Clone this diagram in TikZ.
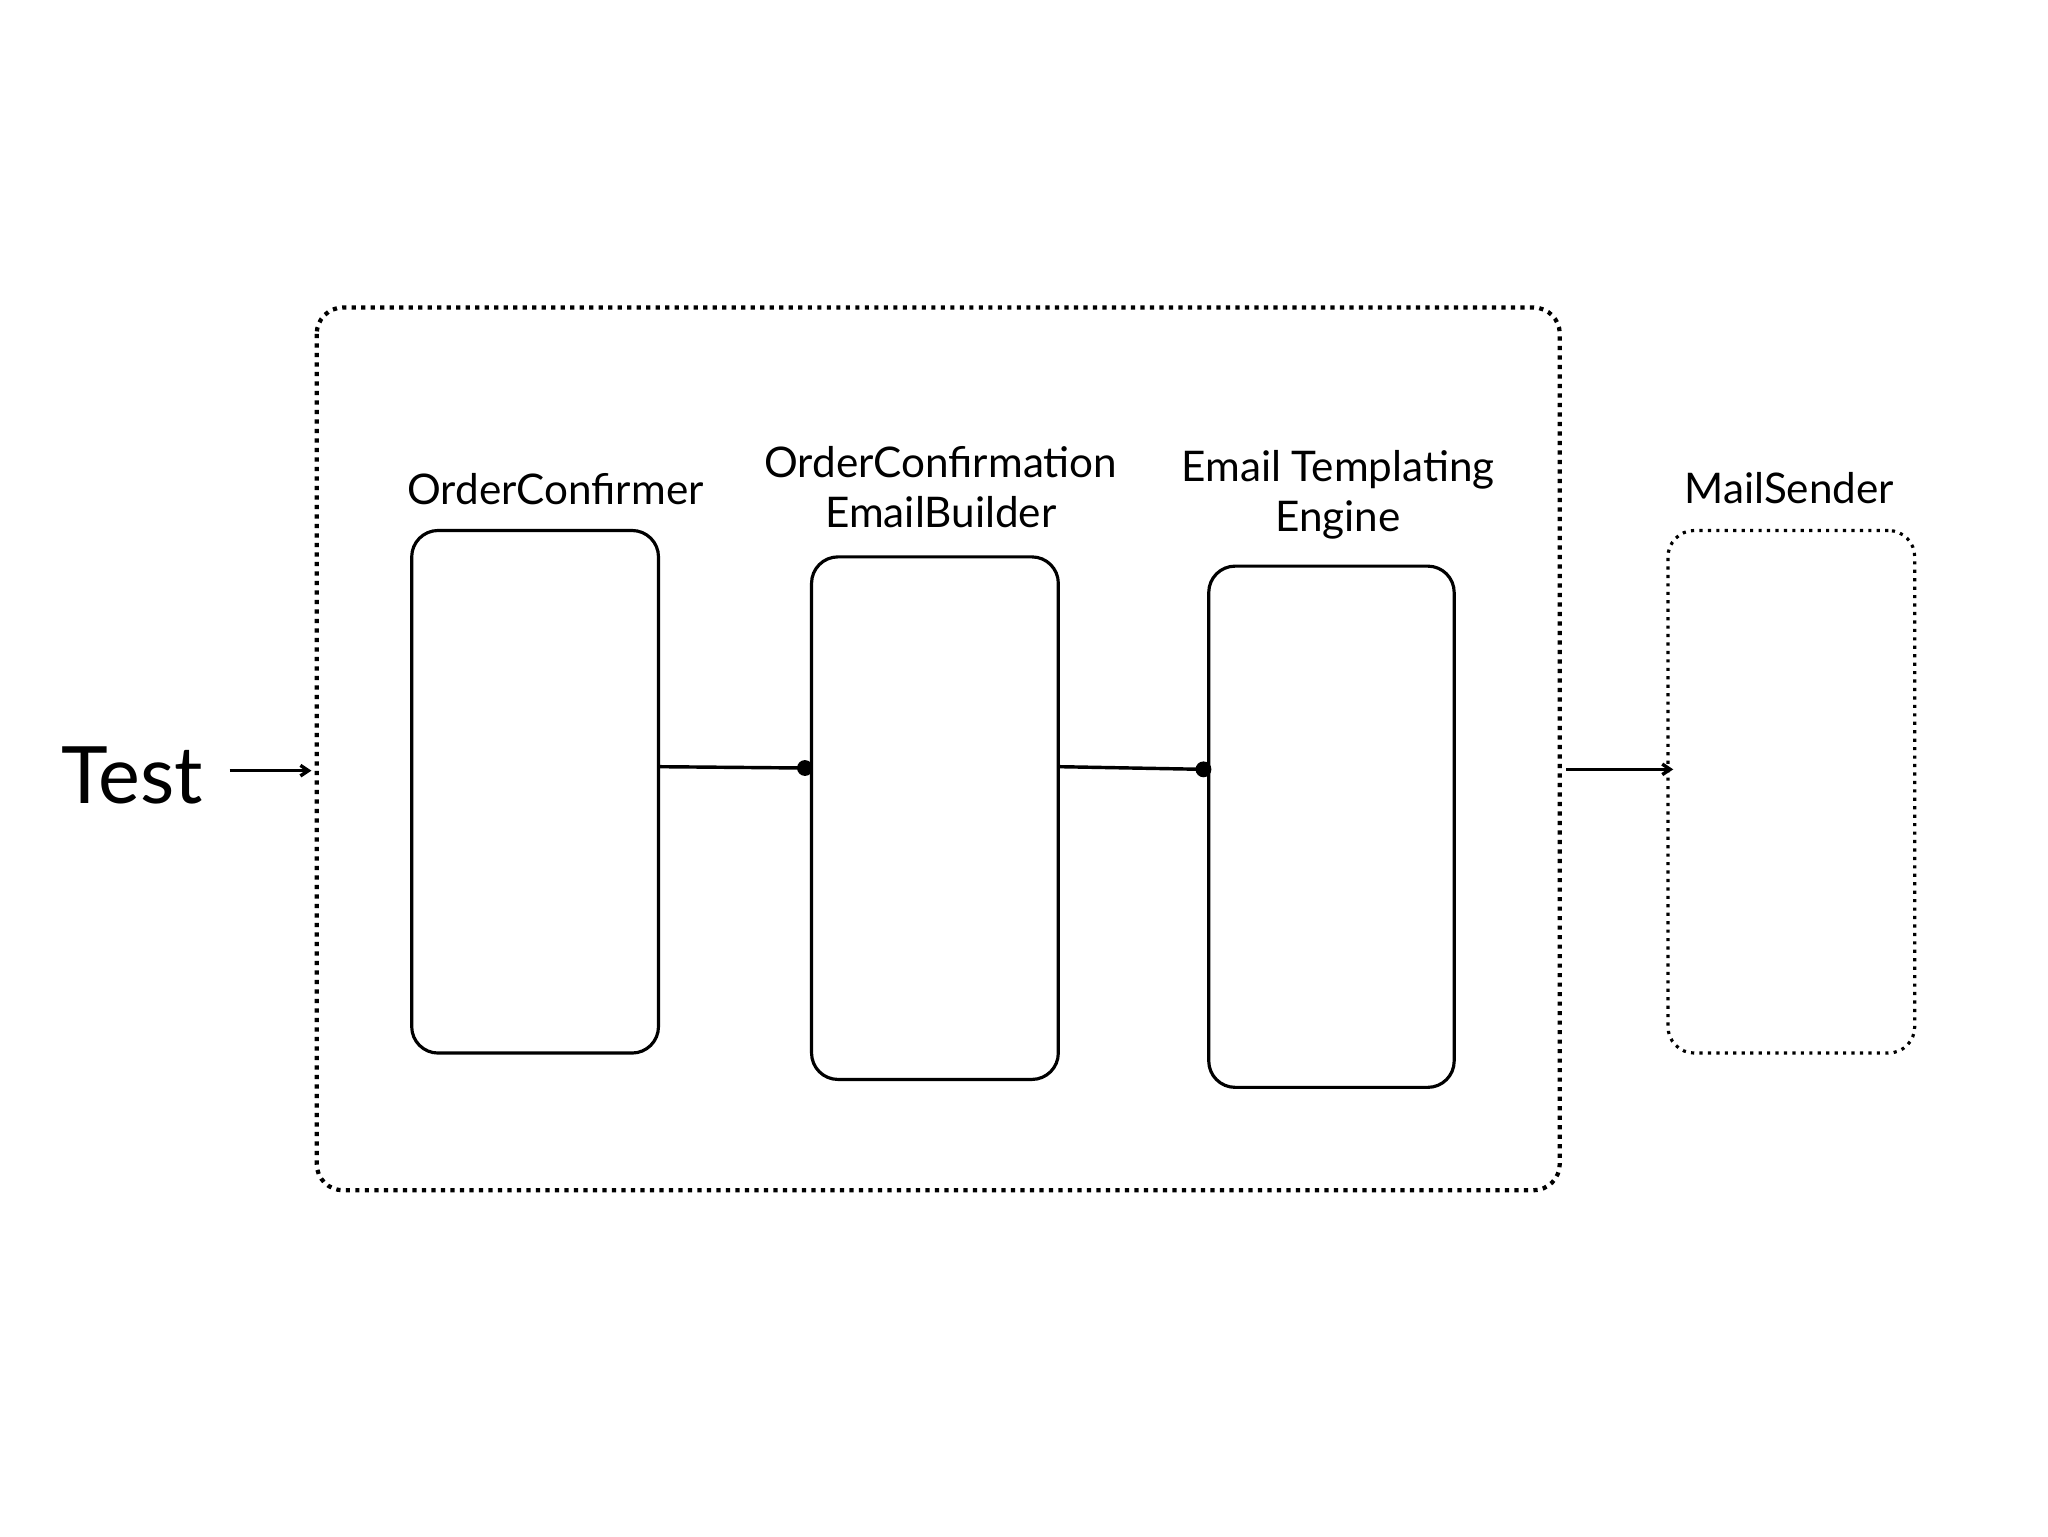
\documentclass[tikz,border=0pt]{standalone}
\usepackage{fontspec}
\setmainfont{Lato}
\usetikzlibrary{arrows.meta}
\begin{document}
\begin{tikzpicture}[x=0.5pt,y=-0.5pt,
  comp/.style={draw,line width=1.2pt,rounded corners=10pt},
  lbl/.style={font=\fontsize{16}{19}\selectfont,align=center},
  conn/.style={line width=1.3pt},
  arr/.style={line width=1.3pt,-{Straight Barb[length=3pt,width=4pt]}}]
\useasboundingbox (0,0) rectangle (1552,1164);
\draw[line width=1.6pt,dotted,rounded corners=10pt] (240,233) rectangle (1182,902);
\node[comp,minimum width=93.5pt,minimum height=198pt] (oc) at (405.5,600) {};
\node[comp,minimum width=93.5pt,minimum height=198pt] (eb) at (708.5,620) {};
\node[comp,minimum width=93pt,minimum height=197.5pt] (te) at (1009,626.5) {};
\node[draw,dotted,line width=1.2pt,rounded corners=10pt,minimum width=93.5pt,minimum height=198pt] (ms) at (1357.5,600) {};
\node[lbl] at (421,371) {OrderConfirmer};
\node[lbl] at (713,369) {OrderConfirmation\\EmailBuilder};
\node[lbl] at (1014,375) {Email Templating\\Engine};
\node[lbl] at (1356,370) {MailSender};
\node[font=\fontsize{30}{36}\selectfont] (t) at (100,588) {Test};
\coordinate (a1) at (174,584); \coordinate (a2) at (236,584);
\draw[arr] (a1) -- (a2);
\coordinate (d1) at (610,582); \coordinate (d2) at (912,583);
\draw[conn] (oc.east |- 0,581) -- (d1);
\fill (d1) circle (6);
\draw[conn] (eb.east |- 0,581) -- (d2);
\fill (d2) circle (6);
\coordinate (b1) at (1187,583); \coordinate (b2) at (1268,583);
\draw[arr] (b1) -- (b2);
\end{tikzpicture}
\end{document}
